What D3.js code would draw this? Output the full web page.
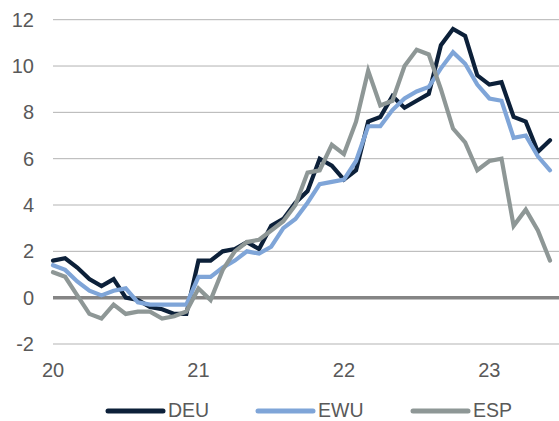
<!DOCTYPE html>
<html><head><meta charset="utf-8">
<script src="https://cdn.jsdelivr.net/npm/d3@7"></script>
<style>body{margin:0;background:#fff}svg{display:block}text{font-family:"Liberation Sans",Arial,sans-serif;fill:#595959}</style>
</head><body><svg id="c" width="559" height="421"></svg>
<script>
const months = d3.timeMonths(new Date(2020,0,1), new Date(2023,6,1)); // Jan 2020 .. Jun 2023
const DEU = [1.6,1.7,1.3,0.8,0.5,0.8,0.0,-0.1,-0.4,-0.5,-0.7,-0.7,
             1.6,1.6,2.0,2.1,2.4,2.1,3.1,3.4,4.1,4.6,6.0,5.7,
             5.1,5.5,7.6,7.8,8.7,8.2,8.5,8.8,10.9,11.6,11.3,9.6,
             9.2,9.3,7.8,7.6,6.3,6.8];
const EWU = [1.4,1.2,0.7,0.3,0.1,0.3,0.4,-0.2,-0.3,-0.3,-0.3,-0.3,
             0.9,0.9,1.3,1.6,2.0,1.9,2.2,3.0,3.4,4.1,4.9,5.0,
             5.1,5.9,7.4,7.4,8.1,8.6,8.9,9.1,9.9,10.6,10.1,9.2,
             8.6,8.5,6.9,7.0,6.1,5.5];
const ESP = [1.1,0.9,0.1,-0.7,-0.9,-0.3,-0.7,-0.6,-0.6,-0.9,-0.8,-0.6,
             0.4,-0.1,1.2,2.0,2.4,2.5,2.9,3.3,4.0,5.4,5.5,6.6,
             6.2,7.6,9.8,8.3,8.5,10.0,10.7,10.5,9.0,7.3,6.7,5.5,
             5.9,6.0,3.1,3.8,2.9,1.6];
const seriesNames = ["DEU","EWU","ESP"];
const seriesColors = ["#0c2039","#7fa5d8","#8e9796"];
const yTicks = [-2,0,2,4,6,8,10,12];
const xTickLabels = ["20","21","22","23"];
const xTickMonths = [new Date(2020,0,1),new Date(2021,0,1),new Date(2022,0,1),new Date(2023,0,1)];

const svg = d3.select("#c");
const x = d3.scalePoint().domain(months.map(d=>+d)).range([53,550]);
const y = d3.scaleLinear().domain([-2,12]).range([344,19.7]);

// gridlines
svg.append("g").selectAll("line").data(yTicks.filter(d=>d!==0)).join("line")
  .attr("x1",53).attr("x2",559).attr("y1",d=>y(d)).attr("y2",d=>y(d))
  .attr("stroke","#b3b3b3").attr("stroke-width",1);
// y labels
svg.append("g").selectAll("text").data(yTicks).join("text")
  .attr("x",34).attr("y",d=>y(d)).attr("dy","0.35em").attr("text-anchor","end")
  .attr("font-size",20).text(d=>d);
// x labels
svg.append("g").selectAll("text").data(xTickLabels).join("text")
  .attr("x",(d,i)=>x(+xTickMonths[i])).attr("y",377).attr("text-anchor","middle")
  .attr("font-size",20).text(d=>d);
// zero line
svg.append("line").attr("x1",53).attr("x2",559).attr("y1",y(0)).attr("y2",y(0))
  .attr("stroke","#858585").attr("stroke-width",3.5);

const data = [DEU,EWU,ESP];
const line = d3.line().x((d,i)=>x(+months[i])).y(d=>y(d));
svg.append("g").selectAll("path").data(data).join("path")
  .attr("d",line).attr("fill","none").attr("stroke",(d,i)=>seriesColors[i])
  .attr("stroke-width",4.2).attr("stroke-linejoin","miter").attr("stroke-linecap","round");

// legend
const legX = [108,258,413];
const lg = svg.append("g").selectAll("g").data(seriesNames).join("g")
  .attr("transform",(d,i)=>`translate(${legX[i]},411)`);
lg.append("line").attr("x1",0).attr("x2",55).attr("stroke",(d,i)=>seriesColors[i])
  .attr("stroke-width",5).attr("stroke-linecap","round");
lg.append("text").attr("x",60).attr("y",6).attr("font-size",19.5).text(d=>d);
</script></body></html>
